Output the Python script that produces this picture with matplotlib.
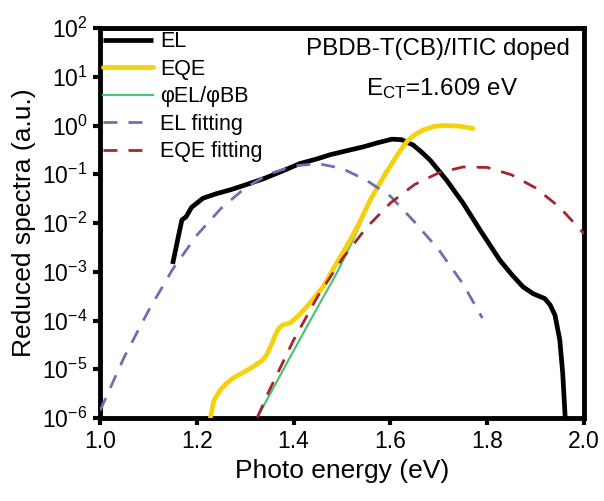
import numpy as np
import matplotlib
matplotlib.use('Agg')
import matplotlib.pyplot as plt

plt.rcParams['font.family'] = ['Liberation Sans', 'DejaVu Sans']
plt.rcParams['mathtext.fontset'] = 'custom'
plt.rcParams['mathtext.rm'] = 'Liberation Sans'
plt.rcParams['mathtext.it'] = 'Liberation Sans:italic'
plt.rcParams['axes.unicode_minus'] = False

# EL (black), log10 of reduced spectra
el_x = [1.150, 1.169, 1.178, 1.189, 1.213, 1.240, 1.269, 1.300, 1.341, 1.380,
        1.413, 1.450, 1.475, 1.517, 1.543, 1.575, 1.603, 1.623, 1.647, 1.665,
        1.682, 1.716, 1.750, 1.785, 1.826, 1.850, 1.874, 1.895, 1.919, 1.930,
        1.940, 1.950, 1.956, 1.961, 1.963]
el_log = [-2.84, -1.94, -1.87, -1.68, -1.49, -1.40, -1.32, -1.22, -1.08, -0.92,
          -0.78, -0.68, -0.60, -0.50, -0.44, -0.35, -0.28, -0.29, -0.40, -0.55,
          -0.71, -1.12, -1.59, -2.14, -2.76, -3.05, -3.31, -3.45, -3.55, -3.68,
          -3.89, -4.40, -5.08, -5.97, -6.20]

# EQE (yellow)
eqe_x = [1.227, 1.235, 1.248, 1.260, 1.275, 1.295, 1.316, 1.335, 1.344, 1.355,
         1.362, 1.370, 1.378, 1.393, 1.410, 1.427, 1.445, 1.461, 1.475, 1.489,
         1.517, 1.538, 1.558, 1.580, 1.599, 1.617, 1.634, 1.650, 1.668, 1.690,
         1.709, 1.740, 1.771]
eqe_log = [-6.05, -5.65, -5.43, -5.30, -5.18, -5.07, -4.95, -4.82, -4.71, -4.48,
           -4.30, -4.15, -4.09, -4.05, -3.90, -3.72, -3.50, -3.31, -3.06, -2.82,
           -2.35, -1.95, -1.53, -1.15, -0.845, -0.56, -0.33, -0.19, -0.09, -0.02,
           0.0, -0.01, -0.06]

# phi_EL / phi_BB (green)
ratio_x = [1.326, 1.360, 1.400, 1.450, 1.489, 1.520, 1.550, 1.589]
ratio_log = [-5.97, -5.35, -4.62, -3.72, -3.03, -2.40, -1.75, -0.95]

# EL fitting (blue dashed)
elfit_x = [1.00, 1.05, 1.10, 1.15, 1.20, 1.25, 1.30, 1.35, 1.40, 1.45,
           1.50, 1.55, 1.60, 1.65, 1.70, 1.75, 1.79]
elfit_log = [-5.85, -4.75, -3.80, -2.95, -2.25, -1.70, -1.28, -0.99, -0.83, -0.78,
             -0.88, -1.12, -1.45, -1.98, -2.55, -3.25, -3.95]

# EQE fitting (red dashed)
eqefit_x = [1.325, 1.35, 1.40, 1.45, 1.50, 1.55, 1.60, 1.65, 1.70, 1.75,
            1.80, 1.85, 1.90, 1.95, 2.00]
eqefit_log = [-5.99, -5.43, -4.40, -3.50, -2.74, -2.10, -1.59, -1.21, -0.97, -0.85,
              -0.86, -1.01, -1.28, -1.68, -2.22]

fig = plt.figure(figsize=(6.04, 5.01), dpi=100)
ax = fig.add_axes([0.1656, 0.1657, 0.8013, 0.7783])

ax.plot(ratio_x, 10.0 ** np.array(ratio_log), color='#4fc277', lw=1.6,
        label='φEL/φBB', zorder=2)
ax.plot(el_x, 10.0 ** np.array(el_log), color='black', lw=3.4, label='EL',
        solid_capstyle='butt', zorder=3)
ax.plot(eqe_x, 10.0 ** np.array(eqe_log), color='#f7d10a', lw=3.4, label='EQE',
        solid_capstyle='round', zorder=4)
ax.plot(elfit_x, 10.0 ** np.array(elfit_log), color='#6b70b2', lw=2.0,
        dashes=(5, 4), label='EL fitting', zorder=5)
ax.plot(eqefit_x, 10.0 ** np.array(eqefit_log), color='#a3262f', lw=2.0,
        dashes=(5, 4), label='EQE fitting', zorder=5)

ax.set_yscale('log')
ax.set_xlim(1.0, 2.0)
ax.set_ylim(1e-6, 1e2)
ax.set_xticks([1.0, 1.2, 1.4, 1.6, 1.8, 2.0])
ax.set_xticklabels(['1.0', '1.2', '1.4', '1.6', '1.8', '2.0'])
ax.set_yticks([10.0 ** k for k in range(-6, 3)])
ax.set_yticklabels(['$10^{%d}$' % k for k in range(-6, 3)])
ax.yaxis.set_minor_locator(matplotlib.ticker.NullLocator())

for s in ax.spines.values():
    s.set_linewidth(3.5)
ax.tick_params(direction='out', length=5, width=3, labelsize=16.5, pad=4,
               top=False, right=False)

ax.set_xlabel('Photo energy (eV)', fontsize=19)
ax.set_ylabel('Reduced spectra (a.u.)', fontsize=19)

handles, labels = ax.get_legend_handles_labels()
order = [1, 2, 0, 3, 4]
ax.legend([handles[i] for i in order], [labels[i] for i in order],
          loc='upper left', frameon=False, fontsize=15.5, handlelength=2.3,
          handletextpad=0.35, labelspacing=0.3, borderaxespad=0.0,
          borderpad=0.15)

ax.text(0.698, 0.931, 'PBDB-T(CB)/ITIC doped', transform=ax.transAxes,
        ha='center', va='baseline', fontsize=17.4)
ax.text(0.707, 0.828, 'E$_{\\mathrm{CT}}$=1.609 eV', transform=ax.transAxes,
        ha='center', va='baseline', fontsize=17.4)

fig.savefig('out.png', dpi=100)
